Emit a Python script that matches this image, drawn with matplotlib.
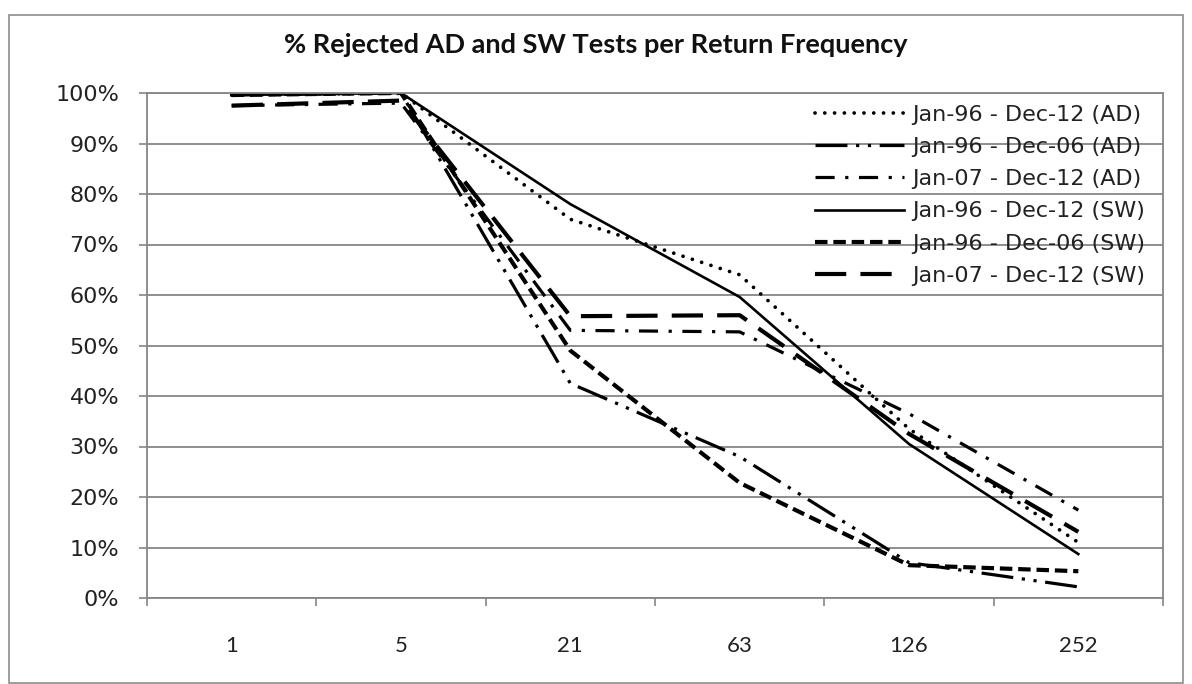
import matplotlib
matplotlib.use("Agg")
import matplotlib.pyplot as plt
from matplotlib.patches import Rectangle
import numpy as np

# return frequency categories
freqs = ['1', '5', '21', '63', '126', '252']

# % of rejected tests
ad_96_12 = [99.6, 100, 75.0, 64.0, 33.5, 11.0]
ad_96_06 = [99.6, 100, 42.5, 28.0, 7.0, 2.2]
ad_07_12 = [97.5, 98.0, 53.0, 52.7, 36.5, 17.4]
sw_96_12 = [99.6, 100, 78.0, 59.6, 30.5, 8.7]
sw_96_06 = [99.6, 100, 49.0, 22.8, 6.5, 5.3]
sw_07_12 = [97.5, 98.5, 55.8, 56.0, 32.5, 13.1]

labels = ['Jan-96 - Dec-12 (AD)', 'Jan-96 - Dec-06 (AD)', 'Jan-07 - Dec-12 (AD)',
          'Jan-96 - Dec-12 (SW)', 'Jan-96 - Dec-06 (SW)', 'Jan-07 - Dec-12 (SW)']

W, H = 1192, 684
fig = plt.figure(figsize=(W / 100, H / 100), dpi=100)
ax = fig.add_axes([147 / W, 1 - 598 / H, (1163 - 147) / W, (598 - 93) / H])

# outer chart frame
fig.patches.append(Rectangle((9 / W, 1 - 683 / H), (1183 - 9) / W, (683 - 15) / H,
                             transform=fig.transFigure, fill=False,
                             edgecolor='#8c8c8c', linewidth=1.2))

x = np.arange(len(freqs))
gray = '#868686'

ax.plot(x, ad_96_12, color='black', lw=2.7, linestyle=(0, (0.01, 2.6)),
        dash_capstyle='round', label=labels[0])
ax.plot(x, ad_96_06, color='black', lw=2.3, linestyle=(0, (10, 2.7, 1, 2.7, 1, 2.7)),
        label=labels[1])
ax.plot(x, ad_07_12, color='black', lw=2.3, linestyle=(0, (6, 3.3, 1, 3.3)),
        label=labels[2])
ax.plot(x, sw_96_12, color='black', lw=1.9, linestyle='-', label=labels[3])
ax.plot(x, sw_96_06, color='black', lw=3.0, linestyle=(0, (3.0, 1.4)),
        label=labels[4])
ax.plot(x, sw_07_12, color='black', lw=3.0, linestyle=(0, (7.5, 3.4)),
        label=labels[5])

ax.set_xlim(-0.5, len(freqs) - 0.5)
ax.set_ylim(0, 100)

# ticks on category boundaries, labels in the middle
ax.set_xticks(np.arange(-0.5, len(freqs), 1.0))
ax.set_xticklabels([])
ax.set_xticks(x, minor=True)
ax.set_xticklabels(freqs, minor=True, fontsize=16, family=['Lato', 'DejaVu Sans'],
                   color='#222222')
ax.tick_params(axis='x', which='minor', length=0, pad=27)
ax.tick_params(axis='x', which='major', length=6, color=gray, width=1.2)

ax.set_yticks(np.arange(0, 101, 10))
ax.set_yticklabels([f'{v}%' for v in range(0, 101, 10)], fontsize=16,
                   family='DejaVu Sans', color='#222222')
ax.tick_params(axis='y', length=6, color=gray, width=1.2, pad=14)

ax.yaxis.grid(True, color=gray, lw=1.3)
ax.set_axisbelow(True)
for s in ax.spines.values():
    s.set_color(gray)
    s.set_linewidth(1.3)

leg = ax.legend(loc='upper center', bbox_to_anchor=((980 - 147) / 1016, 0.977),
                frameon=False, fontsize=16, handlelength=4.0, handletextpad=0.4,
                labelspacing=0.55, borderpad=0, borderaxespad=0)
for t in leg.get_texts():
    t.set_color('#222222')

fig.text(0.5, 1 - 45 / H, '% Rejected AD and SW Tests per Return Frequency',
         ha='center', va='center', fontsize=19.5, fontweight='bold',
         family=['Lato', 'DejaVu Sans'], color='#111111')

fig.savefig('out.png', dpi=100)
